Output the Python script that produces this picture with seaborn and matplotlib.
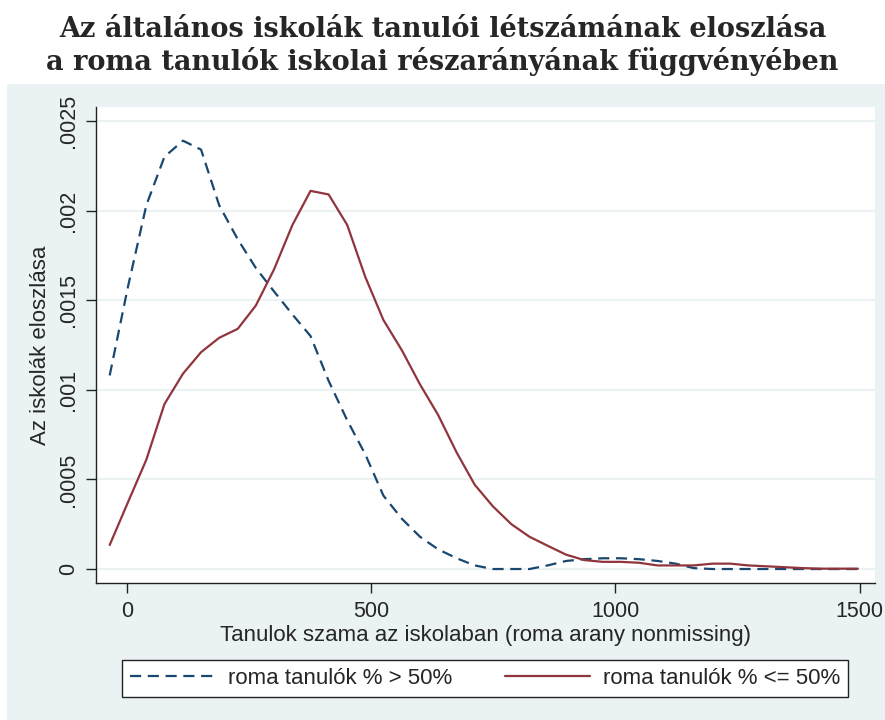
import numpy as np
import pandas as pd
import matplotlib
matplotlib.use("Agg")
import matplotlib.pyplot as plt
import seaborn as sns
from matplotlib.patches import Rectangle

# tanulok szama (x racs)
tanulok = [-35, 2, 40, 77, 115, 152, 189, 227, 264, 301, 339, 376, 413, 451,
           488, 525, 563, 600, 637, 675, 712, 749, 787, 824, 861, 899, 936,
           974, 1011, 1048, 1086, 1123, 1160, 1198, 1235, 1272, 1310, 1347,
           1384, 1422, 1459, 1496]

# roma > 50%
suruseg_felett = [0.00108, 0.00157, 0.00203, 0.00230, 0.00239, 0.00234,
                  0.00203, 0.00184, 0.00168, 0.00155, 0.00142, 0.00130,
                  0.00105, 0.00083, 0.00064, 0.00041, 0.00028, 0.00018,
                  0.00011, 0.00006, 0.00002, 0.0, 0.0, 0.0, 0.00002,
                  0.000045, 0.000055, 0.00006, 0.00006, 0.000055, 0.000045,
                  0.00003, 0.000005, 0.0, 0.0, 0.0, 0.0, 0.0, 0.0, 0.0, 0.0,
                  0.0]

# roma <= 50%
suruseg_alatt = [0.000134, 0.00037, 0.00061, 0.00092, 0.00109, 0.00121,
                 0.00129, 0.00134, 0.00147, 0.00167, 0.00192, 0.00211,
                 0.00209, 0.00192, 0.00163, 0.00139, 0.00122, 0.00103,
                 0.00086, 0.00065, 0.00047, 0.00035, 0.00025, 0.00018,
                 0.00013, 0.00008, 0.00005, 0.00004, 0.00004, 0.000035,
                 0.00002, 0.00002, 0.00002, 0.00003, 0.00003, 0.00002,
                 0.000015, 0.00001, 0.000005, 0.000002, 0.000002, 0.000002]

csoportok = ["roma tanulók % > 50%", "roma tanulók % <= 50%"]
xtick_vals = [0, 500, 1000, 1500]
ytick_vals = [0, 0.0005, 0.001, 0.0015, 0.002, 0.0025]
ytick_labels = ["0", ".0005", ".001", ".0015", ".002", ".0025"]

df = pd.concat([
    pd.DataFrame({"x": tanulok, "y": suruseg_felett, "csoport": csoportok[0]}),
    pd.DataFrame({"x": tanulok, "y": suruseg_alatt, "csoport": csoportok[1]}),
])

sns.set_style("white")
plt.rcParams["font.family"] = ["Liberation Sans", "DejaVu Sans"]

kek = "#1A476F"
bordo = "#90353B"
hatter = "#EAF2F3"

fig = plt.figure(figsize=(8.85, 7.2), dpi=100)
fig.patch.set_facecolor("white")
fig.patches.append(Rectangle((7 / 885, 0), 1, (720 - 84) / 720,
                             transform=fig.transFigure, facecolor=hatter,
                             edgecolor="none", zorder=-10))

ax = fig.add_axes([96 / 885, 1 - 583 / 720, (875 - 96) / 885, (583 - 107) / 720])
ax.set_facecolor("white")

sns.lineplot(data=df, x="x", y="y", hue="csoport", style="csoport",
             palette={csoportok[0]: kek, csoportok[1]: bordo},
             dashes={csoportok[0]: (5, 3), csoportok[1]: ""},
             linewidth=1.6, ax=ax, legend=False, sort=False)

ax.set_xlim(-63, 1531)
ax.set_ylim(-0.000078, 0.002578)
ax.set_xticks(xtick_vals)
ax.set_yticks(ytick_vals)
ax.set_yticklabels(ytick_labels, rotation=90, va="center")
ax.yaxis.grid(True, color=hatter, linewidth=1.5)
ax.xaxis.grid(False)
ax.set_axisbelow(True)

for s in ["top", "right"]:
    ax.spines[s].set_visible(False)
for s in ["left", "bottom"]:
    ax.spines[s].set_color("#222222")
    ax.spines[s].set_linewidth(1.0)

ax.tick_params(axis="both", direction="out", length=7, width=1.0,
               color="#222222", labelsize=15.5, left=True, bottom=True)
ax.tick_params(axis="y", pad=5)
ax.tick_params(axis="x", pad=6)

ax.set_xlabel("Tanulok szama az iskolaban (roma arany nonmissing)",
              fontsize=16, labelpad=2)
ax.set_ylabel("Az iskolák eloszlása", fontsize=16, labelpad=5)

fig.text(0.5, 1 - 46 / 720,
         "Az általános iskolák tanulói létszámának eloszlása\n"
         "a roma tanulók iskolai részarányának függvényében",
         ha="center", va="center", fontsize=19.5, fontweight="bold",
         family="DejaVu Serif", linespacing=1.2)

kezelok = [plt.Line2D([], [], color=kek, lw=1.6, dashes=(5, 3)),
           plt.Line2D([], [], color=bordo, lw=1.6)]
leg = fig.legend(kezelok, csoportok, loc="lower left",
                 bbox_to_anchor=(122 / 885, 1 - 697 / 720, (848 - 122) / 885,
                                 (697 - 655) / 720),
                 mode="expand", ncol=2, fontsize=16, handlelength=3.8,
                 handletextpad=0.6, borderaxespad=0, frameon=True,
                 fancybox=False, edgecolor="#222222", framealpha=1,
                 borderpad=0.35)
leg.get_frame().set_linewidth(1.0)

fig.savefig("out.png", dpi=100)
